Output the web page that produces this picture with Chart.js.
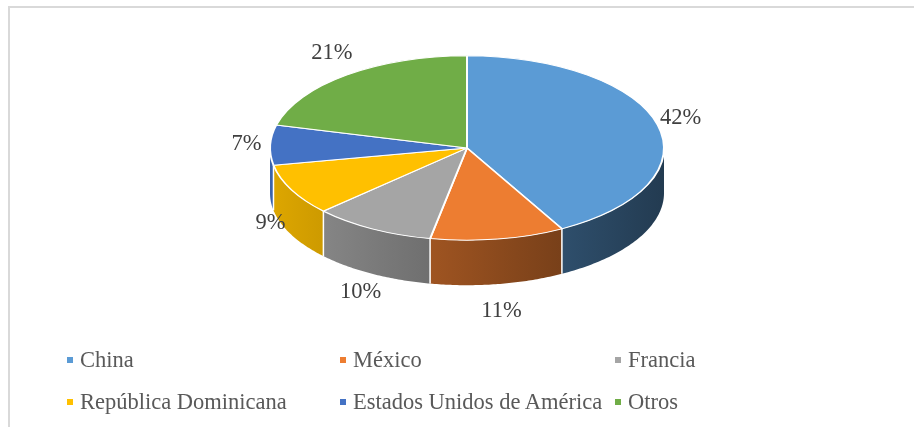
<!DOCTYPE html>
<html lang="es">
<head>
    <meta charset="UTF-8">
    <title>Participación por país</title>
    <style>
        body {
            margin: 0;
            background: #fff;
            overflow: hidden;
        }
        .frame {
            position: absolute;
            left: 8px;
            top: 6px;
            width: 920px;
            height: 440px;
            border: 2px solid #d9d9d9;
        }
        #pieChart {
            position: absolute;
            left: 0;
            top: 0;
        }
        .legend {
            position: absolute;
            left: 67px;
            top: 339px;
            display: grid;
            grid-template-columns: 273px 275px auto;
            grid-auto-rows: 42px;
            font-family: "Liberation Serif", "Times New Roman", serif;
            font-size: 22.5px;
            color: #595959;
        }
        .legend div {
            display: flex;
            align-items: center;
            white-space: nowrap;
        }
        .legend span {
            display: inline-block;
            width: 6px;
            height: 6px;
            margin-right: 7px;
        }
    </style>
</head>
<body>
    <div class="frame"></div>
    <canvas id="pieChart" width="914" height="427"></canvas>
    <div class="legend" id="legend"></div>
    <script src="https://cdn.jsdelivr.net/npm/chart.js"></script>
    <script>
        const categories = ['China', 'México', 'Francia', 'República Dominicana', 'Estados Unidos de América', 'Otros'];
        const shares = [42, 11, 10, 9, 7, 21];
        const colors = ['#5b9bd5', '#ed7d31', '#a5a5a5', '#ffc000', '#4472c4', '#70ad47'];

        function shade(hex, f) {
            const n = parseInt(hex.slice(1), 16);
            const r = Math.round(((n >> 16) & 255) * f);
            const g = Math.round(((n >> 8) & 255) * f);
            const b = Math.round((n & 255) * f);
            return `rgb(${r},${g},${b})`;
        }

        // flattens the pie and draws the side walls under it
        const pie3d = {
            id: 'pie3d',
            beforeDatasetsDraw(chart, args, opts) {
                const ctx = chart.ctx;
                const arcs = chart.getDatasetMeta(0).data;
                const cx = arcs[0].x, R = arcs[0].outerRadius;
                const cy = opts.centerY, k = opts.tilt, d = opts.depth;
                ctx.save();

                arcs.forEach((arc, i) => {
                    const s = Math.max(arc.startAngle, 0);
                    const e = Math.min(arc.endAngle, Math.PI);
                    if (e <= s) return;
                    const steps = 60;
                    ctx.beginPath();
                    for (let j = 0; j <= steps; j++) {
                        const t = s + (e - s) * j / steps;
                        ctx.lineTo(cx + R * Math.cos(t), cy + R * k * Math.sin(t));
                    }
                    for (let j = steps; j >= 0; j--) {
                        const t = s + (e - s) * j / steps;
                        ctx.lineTo(cx + R * Math.cos(t), cy + R * k * Math.sin(t) + d);
                    }
                    ctx.closePath();
                    const grad = ctx.createLinearGradient(cx - R, 0, cx + R, 0);
                    grad.addColorStop(0, shade(colors[i], 0.87));
                    grad.addColorStop(1, shade(colors[i], 0.38));
                    ctx.fillStyle = grad;
                    ctx.fill();
                });

                // white edges between the walls
                ctx.strokeStyle = '#fff';
                ctx.lineWidth = 1.5;
                arcs.forEach(arc => {
                    const t = arc.endAngle;
                    if (t > 0 && t < Math.PI) {
                        const x = cx + R * Math.cos(t), y = cy + R * k * Math.sin(t);
                        ctx.beginPath();
                        ctx.moveTo(x, y);
                        ctx.lineTo(x, y + d);
                        ctx.stroke();
                    }
                });

                ctx.translate(0, cy);
                ctx.scale(1, k);
                ctx.translate(0, -arcs[0].y);
            },
            afterDatasetsDraw(chart, args, opts) {
                const ctx = chart.ctx;
                ctx.restore();
                const arcs = chart.getDatasetMeta(0).data;
                const cx = arcs[0].x, R = arcs[0].outerRadius;
                const cy = opts.centerY, k = opts.tilt, d = opts.depth;
                ctx.save();
                ctx.font = '22.5px "Liberation Serif", "Times New Roman", serif';
                ctx.fillStyle = '#404040';
                ctx.textAlign = 'center';
                ctx.textBaseline = 'middle';
                arcs.forEach((arc, i) => {
                    const mid = (arc.startAngle + arc.endAngle) / 2;
                    const sn = Math.sin(mid);
                    const x = cx + R * 1.12 * Math.cos(mid);
                    const y = cy + R * k * 1.3 * sn + (sn > 0 ? d * sn : 0);
                    ctx.fillText(shares[i] + '%', x, y);
                });
                ctx.restore();
            }
        };

        new Chart(document.getElementById('pieChart'), {
            type: 'pie',
            data: {
                labels: categories,
                datasets: [{
                    data: shares,
                    backgroundColor: colors,
                    borderColor: '#ffffff',
                    borderWidth: 2,
                    clip: false
                }]
            },
            options: {
                responsive: false,
                animation: false,
                layout: { padding: { left: 20, top: 15, bottom: 16 } },
                plugins: {
                    legend: { display: false },
                    tooltip: { enabled: false },
                    pie3d: { centerY: 148, tilt: 0.468, depth: 45 }
                }
            },
            plugins: [pie3d]
        });

        const legend = document.getElementById('legend');
        categories.forEach((name, i) => {
            legend.insertAdjacentHTML('beforeend',
                `<div><span style="background:${colors[i]}"></span>${name}</div>`);
        });
    </script>
</body>
</html>
